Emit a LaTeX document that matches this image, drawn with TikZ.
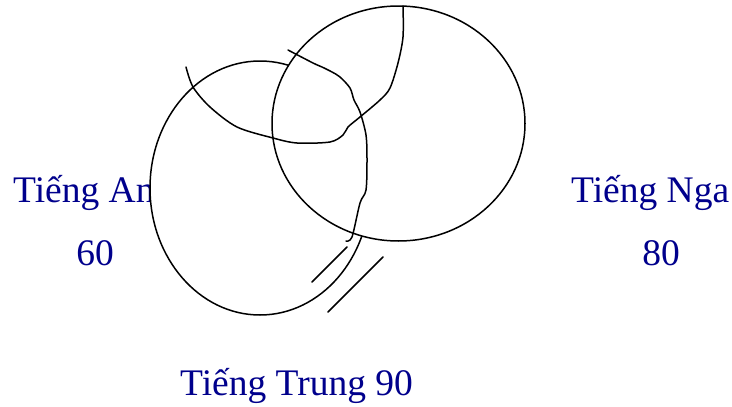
\documentclass[tikz,border=0pt]{standalone}
\usepackage{fontspec}
\setmainfont{Liberation Serif}
\definecolor{navytext}{RGB}{0,0,140}
\begin{document}
\begin{tikzpicture}[x=1pt,y=-1pt,
  lbl/.style={text=navytext,font=\fontsize{37.5}{44}\selectfont,inner sep=0pt,anchor=base west},
  ring/.style={draw=black,line width=1.5pt,fill=white},
  hand/.style={draw=black,line width=1.5pt,line cap=round,line join=round}]
\useasboundingbox (0,0) rectangle (732,407);
% labels
\node[lbl] (anh) at (13,202) {Tiếng Anh};
\node[lbl,anchor=base] (n60) at (95,265) {60};
\node[lbl] (nga) at (571,202) {Tiếng Nga};
\node[lbl,anchor=base] (n80) at (661,265) {80};
\node[lbl] (trung) at (180,395) {Tiếng Trung 90};
% ellipses
\path[ring] (260,188) ellipse [x radius=110pt, y radius=127pt];
\path[ring] (398.5,123.5) ellipse [x radius=126.5pt, y radius=117.5pt];
% hand-drawn strokes
\draw[hand] plot[smooth,tension=0.5] coordinates {(186,67) (193,87) (210,107) (237,127) (273,138) (297,143) (330,142) (343,135) (348,127) (360,117) (380,100) (390,88) (398,63) (403,37) (403,6)};
\draw[hand] plot[smooth,tension=0.5] coordinates {(288,50) (313,63) (322,67) (332,72) (340,77) (350,88) (354,100) (360,112) (366,135) (367,160) (366,190) (360,203) (352,237) (346,241)};
\draw[hand] (347,247) -- (312,282);
\draw[hand] (383,257) -- (328,312);
\end{tikzpicture}
\end{document}
